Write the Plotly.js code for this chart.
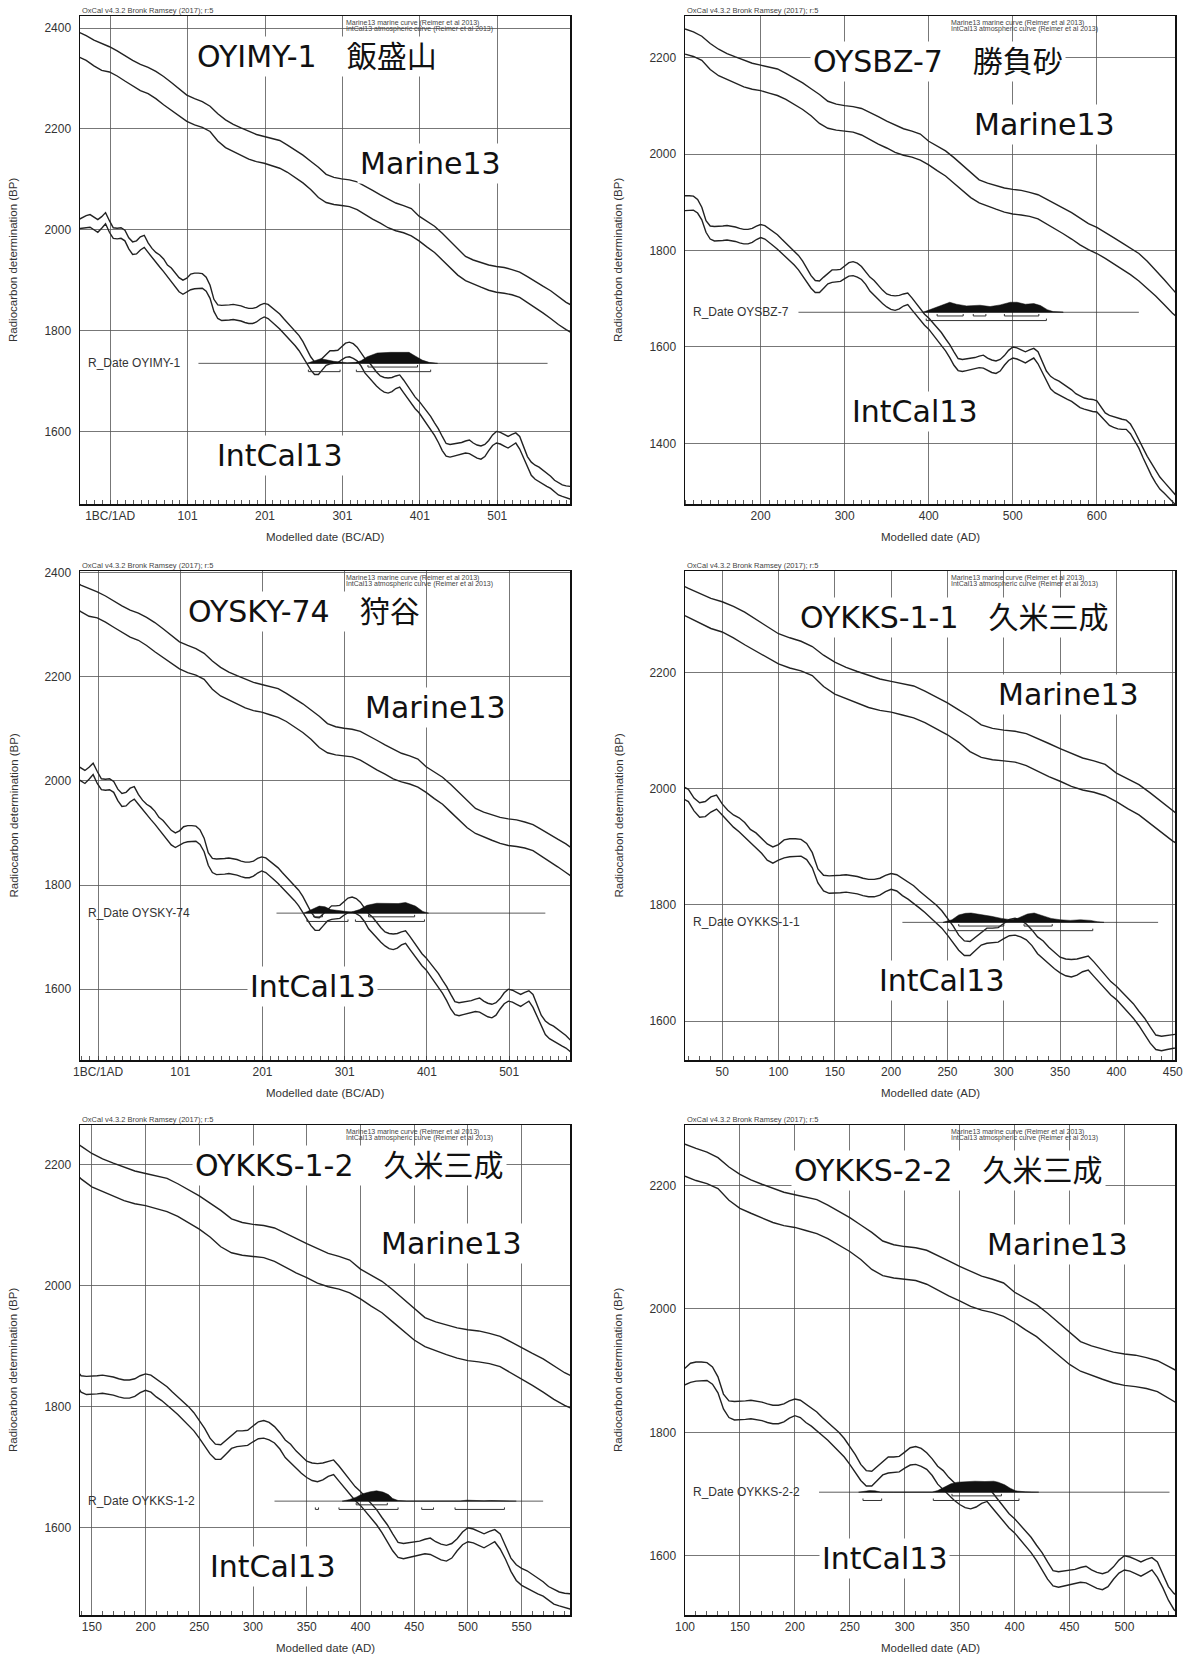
<!DOCTYPE html>
<html><head><meta charset="utf-8">
<script src="https://cdn.plot.ly/plotly-3.0.1.min.js"></script>
<style>html,body{margin:0;padding:0;background:#fff}#chart{width:1187px;height:1657px}</style>
</head><body><div id="chart"></div>
<script>
// ---------- DATA ----------
const marineYears = [-40,-30,-20,-10,0,10,20,30,40,50,60,70,80,90,100,110,120,130,140,150,160,170,180,190,200,210,220,230,240,250,260,270,280,290,300,310,320,330,340,350,360,370,380,390,400,410,420,430,440,450,460,470,480,490,500,510,520,530,540,550,560,570,580,590,600,610,620,630,640,650,660,670,680,690,700];
const marineUpper = [2392,2385,2376,2370,2363,2355,2345,2336,2328,2322,2314,2304,2292,2279,2267,2260,2254,2245,2230,2218,2209,2202,2195,2189,2185,2181,2177,2168,2158,2148,2136,2124,2110,2104,2101,2099,2095,2087,2078,2069,2061,2053,2048,2042,2027,2017,2007,1993,1978,1962,1947,1940,1935,1930,1927,1925,1921,1916,1907,1897,1888,1879,1868,1856,1848,1838,1827,1816,1805,1794,1778,1760,1740,1720,1700];
const marineLower = [2343,2336,2325,2316,2313,2305,2295,2285,2276,2270,2260,2248,2237,2225,2215,2208,2203,2195,2176,2163,2155,2147,2140,2135,2132,2127,2122,2114,2104,2093,2080,2064,2054,2050,2048,2046,2040,2030,2021,2013,2004,1998,1994,1988,1978,1966,1955,1940,1925,1910,1899,1892,1886,1880,1876,1874,1871,1866,1856,1845,1835,1824,1812,1802,1794,1784,1773,1762,1750,1737,1722,1706,1688,1670,1655];

const intcalYears = [-40,-35,-30,-25,-20,-15,-10,-5,0,5,10,15,20,25,30,35,40,45,50,55,60,65,70,75,80,85,90,95,100,105,110,115,120,125,130,135,140,145,150,155,160,165,170,175,180,185,190,195,200,205,210,215,220,225,230,235,240,245,250,255,260,265,270,275,280,285,290,295,300,305,310,315,320,325,330,335,340,345,350,355,360,365,370,375,380,385,390,395,400,405,410,415,420,425,430,435,440,445,450,455,460,465,470,475,480,485,490,495,500,505,510,515,520,525,530,535,540,545,550,555,560,565,570,575,580,585,590,595,600,605,610,615,620,625,630,635,640,645,650,655,660,665,670,675,680,685,690,695,700];
const intcalUpper = [2020,2024,2028,2030,2025,2020,2026,2034,2018,2004,2003,2004,1999,1984,1976,1978,1986,1989,1974,1963,1955,1950,1942,1930,1924,1914,1905,1900,1904,1912,1914,1914,1913,1906,1890,1862,1851,1850,1850,1851,1852,1851,1849,1846,1844,1844,1846,1851,1854,1852,1846,1840,1833,1824,1816,1808,1800,1790,1778,1764,1748,1738,1737,1745,1753,1760,1760,1761,1768,1775,1777,1774,1767,1757,1745,1738,1727,1718,1710,1707,1706,1707,1710,1712,1702,1690,1678,1668,1660,1650,1640,1630,1617,1605,1590,1576,1574,1575,1576,1578,1581,1583,1577,1573,1571,1574,1582,1593,1600,1598,1594,1590,1594,1597,1590,1570,1550,1539,1533,1529,1523,1518,1511,1503,1498,1494,1492,1491,1488,1476,1463,1458,1455,1452,1450,1448,1440,1425,1406,1390,1373,1358,1345,1330,1320,1310,1298,1290,1283];
const intcalLower = [2002,2003,2005,2005,2000,1995,2003,2012,1995,1983,1982,1983,1978,1962,1951,1952,1960,1965,1955,1945,1934,1926,1917,1907,1899,1889,1877,1872,1877,1881,1883,1883,1884,1878,1864,1838,1824,1820,1820,1821,1822,1821,1819,1816,1814,1814,1817,1823,1827,1824,1816,1810,1803,1795,1787,1778,1770,1760,1748,1735,1722,1713,1713,1722,1731,1734,1735,1736,1742,1747,1748,1745,1740,1730,1716,1707,1698,1690,1683,1678,1676,1679,1685,1688,1677,1666,1655,1645,1637,1626,1616,1605,1592,1578,1562,1551,1549,1551,1553,1555,1557,1556,1551,1547,1545,1550,1562,1572,1577,1575,1571,1567,1572,1577,1565,1548,1528,1513,1505,1500,1496,1491,1487,1480,1474,1471,1468,1466,1465,1455,1446,1437,1433,1430,1429,1429,1420,1405,1390,1370,1350,1333,1318,1305,1297,1288,1278,1270,1263];

// sample names / titles
const sampleTitles = ["OYIMY-1　飯盛山","OYSBZ-7　勝負砂","OYSKY-74　狩谷","OYKKS-1-1　久米三成","OYKKS-1-2　久米三成","OYKKS-2-2　久米三成"];
const rdateNames = ["R_Date OYIMY-1","R_Date OYSBZ-7","R_Date OYSKY-74","R_Date OYKKS-1-1","R_Date OYKKS-1-2","R_Date OYKKS-2-2"];
const rdateBP = [1735,1672,1746,1770,1644,1703];
const rdateSpan = [[115,566],[245,650],[218,545],[210,437],[320,570],[222,541]];

// probability distributions (relative)
const dist1Years = [255,264,273,282,290,299,307,318,325,333,346,363,380,387,395,404,413,424];
const dist1Prob  = [0,0.24,0.42,0.3,0.18,0.12,0.06,0.09,0.24,0.6,0.94,1,1,1,0.67,0.3,0.09,0.015];
const dist2Years = [393,401,413,425,433,445,461,473,485,497,505,515,525,533,541,548,560];
const dist2Prob  = [0,0.24,0.6,0.91,0.73,0.58,0.64,0.52,0.67,0.91,0.91,0.73,0.79,0.61,0.24,0.06,0.015];
const dist3Years = [251,258,270,277,284,291,300,309,319,328,340,352,366,375,387,396,403];
const dist3Prob  = [0,0.26,0.64,0.58,0.32,0.26,0.19,0.1,0.32,0.71,0.9,0.9,0.87,0.97,0.64,0.16,0.03];
const dist4Years = [246,254,260,266,271,280,289,298,306,312,321,327,333,342,350,359,368,377,383,389];
const dist4Prob  = [0,0.24,0.67,0.82,0.85,0.73,0.55,0.36,0.24,0.36,0.76,0.85,0.67,0.36,0.24,0.18,0.24,0.18,0.06,0.015];
const dist5Years = [383,390,396,402,409,415,421,426,430,435,443,450,460,480,493,499,505,515,521,527,533,545];
const dist5Prob  = [0,0.15,0.36,0.67,0.85,0.94,0.82,0.6,0.24,0.06,0.015,0.01,0.01,0.01,0.015,0.09,0.045,0.03,0.06,0.03,0.01,0];
const dist6Years = [258,264,268,273,278,290,310,325,330,336,342,348,357,364,373,381,385,391,396,401,410,422];
const dist6Prob  = [0,0.09,0.15,0.12,0.015,0.01,0.01,0.015,0.15,0.45,0.76,0.91,0.97,1,0.97,1,0.91,0.67,0.36,0.12,0.03,0];
const distYears = [dist1Years,dist2Years,dist3Years,dist4Years,dist5Years,dist6Years];
const distProb  = [dist1Prob,dist2Prob,dist3Prob,dist4Prob,dist5Prob,dist6Prob];

// 68.2% and 95.4% ranges
const range68 = [[[334,398]],[[410,441],[453,468],[490,531]],[[263,274],[330,386]],[[260,300],[318,343]],[[396,425]],[[343,388]]];
const range95 = [[[257,298],[319,415]],[[397,540]],[[255,305],[314,398]],[[251,379]],[[358,361],[380,435],[457,468],[488,534]],[[262,279],[326,404]]];

// axis ticks
const bcadTickVals = [1,101,201,301,401,501];
const bcadTickText = ["1BC/1AD","101","201","301","401","501"];

// ---------- LAYOUT CONFIG ----------
const W = 1187, H = 1657;
const panels = [
  {px:[80,570],  py:[16,504],   xr:[-38,595], yr:[1456,2424], bcad:true,  dx:100, xtitle:"Modelled date (BC/AD)", t:[0.484,0.916], m:[0.715,0.698], ic:[0.408,0.10]},
  {px:[685,1175],py:[16,504],   xr:[110,693], yr:[1274,2287], bcad:false, dx:100, xtitle:"Modelled date (AD)",    t:[0.517,0.907], m:[0.734,0.777], ic:[0.469,0.19]},
  {px:[80,570],  py:[571,1060], xr:[-21,575], yr:[1464,2403], bcad:true,  dx:100, xtitle:"Modelled date (BC/AD)", t:[0.457,0.917], m:[0.725,0.721], ic:[0.474,0.15]},
  {px:[685,1175],py:[571,1060], xr:[17,452],  yr:[1533,2375], bcad:false, dx:50,  xtitle:"Modelled date (AD)",    t:[0.550,0.904], m:[0.782,0.748], ic:[0.523,0.163]},
  {px:[80,570],  py:[1125,1615],xr:[139,595], yr:[1456,2265], bcad:false, dx:50,  xtitle:"Modelled date (AD)",    t:[0.549,0.917], m:[0.759,0.758], ic:[0.392,0.098]},
  {px:[685,1175],py:[1125,1615],xr:[100,546], yr:[1504,2298], bcad:false, dx:50,  xtitle:"Modelled date (AD)",    t:[0.537,0.908], m:[0.761,0.757], ic:[0.407,0.116]}
];

const tickFont = {family:"Liberation Sans, Arial, sans-serif", size:12, color:"#333"};
const bigFont = {family:"DejaVu Sans, Noto Sans CJK JP, sans-serif", size:30, color:"#111"};
const curveLine = {color:"#222", width:1.4};

const traces = [];
const layout = {
  width:W, height:H, margin:{l:0,r:0,t:0,b:0}, showlegend:false,
  paper_bgcolor:"#fff", plot_bgcolor:"#fff", annotations:[]
};

panels.forEach((p,i)=>{
  const s = i===0 ? "" : String(i+1);
  const xa = "x"+s, ya = "y"+s;
  const bpPerPx = (p.yr[1]-p.yr[0])/(p.py[1]-p.py[0]);
  const xaxis = {
    domain:[p.px[0]/W, p.px[1]/W], range:p.xr, anchor:ya,
    showgrid:true, gridcolor:"#555", gridwidth:0.8, zeroline:false,
    showline:true, mirror:true, linecolor:"#111", linewidth:1.5,
    ticks:"", tickfont:tickFont,
    minor:{ticks:"inside", ticklen:4, tickcolor:"#333", tickwidth:0.8, dtick:10, tick0:p.bcad?1:0, showgrid:false}
  };
  if (p.bcad) { xaxis.tickmode="array"; xaxis.tickvals=bcadTickVals; xaxis.ticktext=bcadTickText; }
  else { xaxis.dtick=p.dx; xaxis.tick0=0; }
  const yaxis = {
    domain:[1-p.py[1]/H, 1-p.py[0]/H], range:p.yr, anchor:xa,
    showgrid:true, gridcolor:"#555", gridwidth:0.8, zeroline:false,
    showline:true, mirror:true, linecolor:"#111", linewidth:1.5,
    ticks:"", tickfont:tickFont, dtick:200, tick0:0, ticklabelstandoff:5
  };
  layout["xaxis"+s] = xaxis;
  layout["yaxis"+s] = yaxis;

  const base = {xaxis:xa, yaxis:ya, mode:"lines", hoverinfo:"skip"};
  traces.push(Object.assign({x:marineYears, y:marineUpper, line:curveLine}, base));
  traces.push(Object.assign({x:marineYears, y:marineLower, line:curveLine}, base));
  traces.push(Object.assign({x:intcalYears, y:intcalUpper, line:curveLine}, base));
  traces.push(Object.assign({x:intcalYears, y:intcalLower, line:curveLine}, base));

  // R_Date baseline
  const b = rdateBP[i];
  traces.push(Object.assign({x:rdateSpan[i], y:[b,b], line:{color:"#333", width:0.8}}, base));

  // distribution
  const hBP = 11*bpPerPx;
  const dy = distYears[i], dp = distProb[i];
  const fx = dy.concat(dy.slice().reverse());
  const fy = dp.map(v=>b+v*hBP).concat(dy.map(()=>b));
  traces.push(Object.assign({x:fx, y:fy, fill:"toself", fillcolor:"#111", line:{color:"#111", width:0.5}}, base));

  // range brackets
  function bracketTrace(ranges, offPx){
    const yr = b - offPx*bpPerPx, tk = 2*bpPerPx;
    const bx=[], by=[];
    ranges.forEach(r=>{ bx.push(r[0],r[0],r[1],r[1],null); by.push(yr+tk,yr,yr,yr+tk,null); });
    return Object.assign({x:bx, y:by, line:{color:"#333", width:1}}, base);
  }
  traces.push(bracketTrace(range68[i], 3.7));
  traces.push(bracketTrace(range95[i], 8.3));

  const dref = {xref:xa+" domain", yref:ya+" domain", showarrow:false};
  const cc = {xanchor:"center", yanchor:"middle", bgcolor:"#fff", borderpad:2, font:bigFont};
  const A = layout.annotations;
  A.push(Object.assign({x:p.t[0], y:p.t[1], text:sampleTitles[i]}, cc, dref));
  A.push(Object.assign({x:p.m[0], y:p.m[1], text:"Marine13"}, cc, dref));
  A.push(Object.assign({x:p.ic[0], y:p.ic[1], text:"IntCal13"}, cc, dref));
  A.push({xref:xa+" domain", yref:ya, x:0.012, y:b, xanchor:"left", yanchor:"middle", showarrow:false,
          text:rdateNames[i], font:{family:"Liberation Sans, Arial, sans-serif", size:12, color:"#333"}});
  A.push(Object.assign({x:0, y:1, xanchor:"left", yanchor:"bottom", yshift:-1, text:"OxCal v4.3.2 Bronk Ramsey (2017); r:5",
          font:{family:"Liberation Sans, Arial, sans-serif", size:7.5, color:"#444"}}, dref));
  const ph = p.py[1]-p.py[0];
  A.push(Object.assign({x:0.538, y:1-7/ph, xanchor:"left", yanchor:"middle", text:"Marine13 marine curve (Reimer et al 2013)",
          font:{family:"Liberation Sans, Arial, sans-serif", size:7, color:"#444"}}, dref));
  A.push(Object.assign({x:0.538, y:1-13/ph, xanchor:"left", yanchor:"middle", text:"IntCal13 atmospheric curve (Reimer et al 2013)",
          font:{family:"Liberation Sans, Arial, sans-serif", size:7, color:"#444"}}, dref));
  // axis titles
  A.push({xref:"paper", yref:"paper", x:(p.px[0]+p.px[1])/2/W, y:1-(p.py[1]+33)/H, xanchor:"center", yanchor:"middle",
          showarrow:false, text:p.xtitle, font:{family:"Liberation Sans, Arial, sans-serif", size:11.5, color:"#333"}});
  A.push({xref:"paper", yref:"paper", x:(p.px[0]-67)/W, y:1-(p.py[0]+p.py[1])/2/H, xanchor:"center", yanchor:"middle",
          textangle:-90, showarrow:false, text:"Radiocarbon determination (BP)", font:{family:"Liberation Sans, Arial, sans-serif", size:11.5, color:"#333"}});
});

Plotly.newPlot("chart", traces, layout, {staticPlot:true, displayModeBar:false});
</script>
</body></html>
